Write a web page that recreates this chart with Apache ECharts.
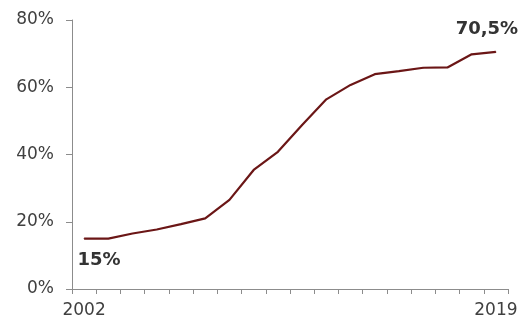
<!DOCTYPE html>
<html>
<head>
<meta charset="utf-8">
<script src="https://cdn.jsdelivr.net/npm/echarts@6/dist/echarts.min.js"></script>
<style>
  html, body { margin: 0; padding: 0; background: #fff; }
  #chart { width: 523px; height: 325px; }
</style>
</head>
<body>
<div id="chart"></div>
<script>
// Years shown on the category axis
const years = ['2002','2003','2004','2005','2006','2007','2008','2009','2010',
               '2011','2012','2013','2014','2015','2016','2017','2018','2019'];
// Share per year, in percent
const shares = [15, 15, 16.5, 17.7, 19.3, 21, 26.5, 35.4, 40.8,
                48.8, 56.4, 60.7, 63.9, 64.8, 65.8, 65.9, 69.8, 70.5];
// Value-axis ticks
const yTicks = [0, 20, 40, 60, 80];

const lineColor = '#6b1616';
const fmtPct = v => String(v).replace('.', ',') + '%';

const last = shares.length - 1;
const seriesData = shares.map((v, i) => {
  const item = { value: v };
  if (i === 0) {
    item.label = { show: true, position: 'bottom', distance: 12, offset: [15, 0] };
  } else if (i === last) {
    item.label = { show: true, position: 'top', distance: 13, offset: [-9, 0] };
  }
  return item;
});

const chart = echarts.init(document.getElementById('chart'), null, { renderer: 'canvas' });
chart.setOption({
  animation: false,
  backgroundColor: '#ffffff',
  grid: { left: 72, right: 15, top: 20, bottom: 36 },
  xAxis: {
    type: 'category',
    data: years,
    boundaryGap: true,
    axisLine: { lineStyle: { color: '#8c8c8c', width: 1 } },
    axisTick: { show: true, interval: 0, length: 5, lineStyle: { color: '#8c8c8c' } },
    axisLabel: {
      interval: (i) => i === 0 || i === last,
      margin: 13,
      color: '#404040',
      fontFamily: 'DejaVu Sans',
      fontSize: 17
    },
    splitLine: { show: false }
  },
  yAxis: {
    type: 'value',
    min: yTicks[0],
    max: yTicks[yTicks.length - 1],
    interval: yTicks[1] - yTicks[0],
    axisLine: { show: true, lineStyle: { color: '#8c8c8c', width: 1 } },
    axisTick: { show: true, length: 6, lineStyle: { color: '#8c8c8c' } },
    axisLabel: {
      formatter: '{value}%',
      margin: 18,
      color: '#404040',
      fontFamily: 'DejaVu Sans',
      fontSize: 17
    },
    splitLine: { show: false }
  },
  series: [{
    type: 'line',
    data: seriesData,
    symbol: 'circle',
    symbolSize: 1,
    showSymbol: true,
    itemStyle: { color: lineColor },
    lineStyle: { color: lineColor, width: 2.2 },
    label: {
      show: false,
      formatter: p => fmtPct(p.value),
      color: '#333333',
      fontFamily: 'DejaVu Sans',
      fontWeight: 'bold',
      fontSize: 18
    }
  }]
});
</script>
</body>
</html>
